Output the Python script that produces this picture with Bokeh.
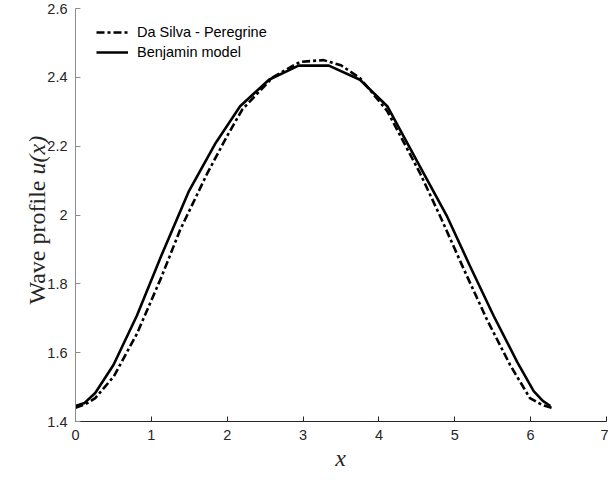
import numpy as np
from bokeh.plotting import figure
from bokeh.models import Range1d, FixedTicker, Legend, LegendItem, Label
from bokeh.embed import file_html
from bokeh.resources import INLINE

# Da Silva - Peregrine (dash-dot)
x_peregrine = [0.0, 0.13, 0.26, 0.505, 0.81, 1.12, 1.38, 1.735, 2.0, 2.20, 2.60, 2.96,
               3.27, 3.50, 3.75, 4.11, 4.545, 4.81, 5.12, 5.42, 5.73, 5.99, 6.15, 6.28]
u_peregrine = [1.440, 1.450, 1.468, 1.531, 1.655, 1.813, 1.957, 2.120, 2.230, 2.307, 2.400, 2.445,
               2.450, 2.435, 2.398, 2.302, 2.120, 1.995, 1.842, 1.698, 1.564, 1.468, 1.448, 1.440]

# Benjamin model (solid)
x_benjamin = [0.0, 0.12, 0.26, 0.50, 0.81, 1.12, 1.49, 1.85, 2.17, 2.55, 2.94,
              3.34, 3.75, 4.11, 4.545, 4.90, 5.20, 5.51, 5.82, 6.04, 6.16, 6.26]
u_benjamin = [1.445, 1.454, 1.483, 1.564, 1.708, 1.876, 2.067, 2.210, 2.316, 2.393, 2.434,
              2.434, 2.393, 2.316, 2.139, 1.995, 1.852, 1.708, 1.574, 1.488, 1.460, 1.445]

x_ticks = [0, 1, 2, 3, 4, 5, 6, 7]
x_tick_labels = ["0", "1", "2", "3", "4", "5", "6", "7"]
y_ticks = [1.4, 1.6, 1.8, 2.0, 2.2, 2.4, 2.6]
y_tick_labels = ["1.4", "1.6", "1.8", "2", "2.2", "2.4", "2.6"]

series_names = ["Da Silva - Peregrine", "Benjamin model"]
x_title = "x"
y_title_main = "Wave profile "
y_title_math = "u(x)"

# layout: canvas 608x480, axes box from px (75, 8) to (606, 421)
W, H = 608, 480
left, right, top, bottom = 75, 606, 8, 421
xmin, xmax = x_ticks[0], x_ticks[-1]
ymin, ymax = y_ticks[0], y_ticks[-1]
sx = (right - left) / (xmax - xmin)
sy = (bottom - top) / (ymax - ymin)

p = figure(width=W, height=H, output_backend="svg", toolbar_location=None,
           x_range=Range1d(xmin - left / sx, xmax + (W - right) / sx),
           y_range=Range1d(ymin - (H - bottom) / sy, ymax + top / sy),
           min_border=0, min_border_left=0, min_border_right=0,
           min_border_top=0, min_border_bottom=0)
p.outline_line_color = None
p.xgrid.visible = False
p.ygrid.visible = False
p.background_fill_color = "white"
p.border_fill_color = "white"

r1 = p.line(x_peregrine, u_peregrine, line_color="black", line_width=2.6, line_dash="8 3 3 3")
r2 = p.line(x_benjamin, u_benjamin, line_color="black", line_width=2.6)

p.xaxis[0].fixed_location = ymin
p.yaxis[0].fixed_location = xmin
p.xaxis[0].bounds = (xmin, xmax)
p.yaxis[0].bounds = (ymin, ymax)

for ax, ticks, labels, col in ((p.xaxis[0], x_ticks, x_tick_labels, "#262626"),
                               (p.yaxis[0], y_ticks, y_tick_labels, "#8c8c8c")):
    ax.ticker = FixedTicker(ticks=ticks)
    ax.major_label_overrides = {t: l for t, l in zip(ticks, labels)}
    ax.minor_tick_line_color = None
    ax.major_tick_in = 5
    ax.major_tick_out = 0
    ax.axis_line_color = col
    ax.major_tick_line_color = col
    ax.major_label_text_font = "Liberation Sans"
    ax.major_label_text_font_size = "14.5px"
    ax.major_label_text_color = "#262626"
    ax.major_label_standoff = 8

legend = Legend(items=[LegendItem(label=series_names[0], renderers=[r1]),
                       LegendItem(label=series_names[1], renderers=[r2])],
                location=(96, 418), margin=0, padding=0, spacing=0,
                glyph_width=32, glyph_height=20, label_height=20, label_standoff=9,
                border_line_color=None, background_fill_alpha=0,
                label_text_font="Liberation Sans", label_text_font_size="14.5px",
                label_text_color="black")
p.add_layout(legend)

# axis titles (screen positions converted to data coordinates)
x_title_pos = (xmin + (340 - left) / sx, ymin - (457 - bottom) / sy)
y_title_pos = (xmin - (left - 36) / sx, ymax - (174 - top) / sy)

p.add_layout(Label(x=x_title_pos[0], y=x_title_pos[1], text=x_title, text_font="Liberation Serif",
                   text_font_style="italic", text_font_size="24px", text_align="center",
                   text_baseline="alphabetic", text_color="#262626"))
p.add_layout(Label(x=y_title_pos[0], y=y_title_pos[1], text=y_title_main, text_font="Liberation Serif",
                   text_font_size="24px", text_align="right", text_baseline="alphabetic",
                   angle=np.pi / 2, text_color="#262626"))
p.add_layout(Label(x=y_title_pos[0], y=y_title_pos[1], text=y_title_math, text_font="Liberation Serif",
                   text_font_style="italic", text_font_size="24px", text_align="left",
                   text_baseline="alphabetic", angle=np.pi / 2, text_color="#262626"))

open("out.html", "w").write(file_html(p, INLINE))
